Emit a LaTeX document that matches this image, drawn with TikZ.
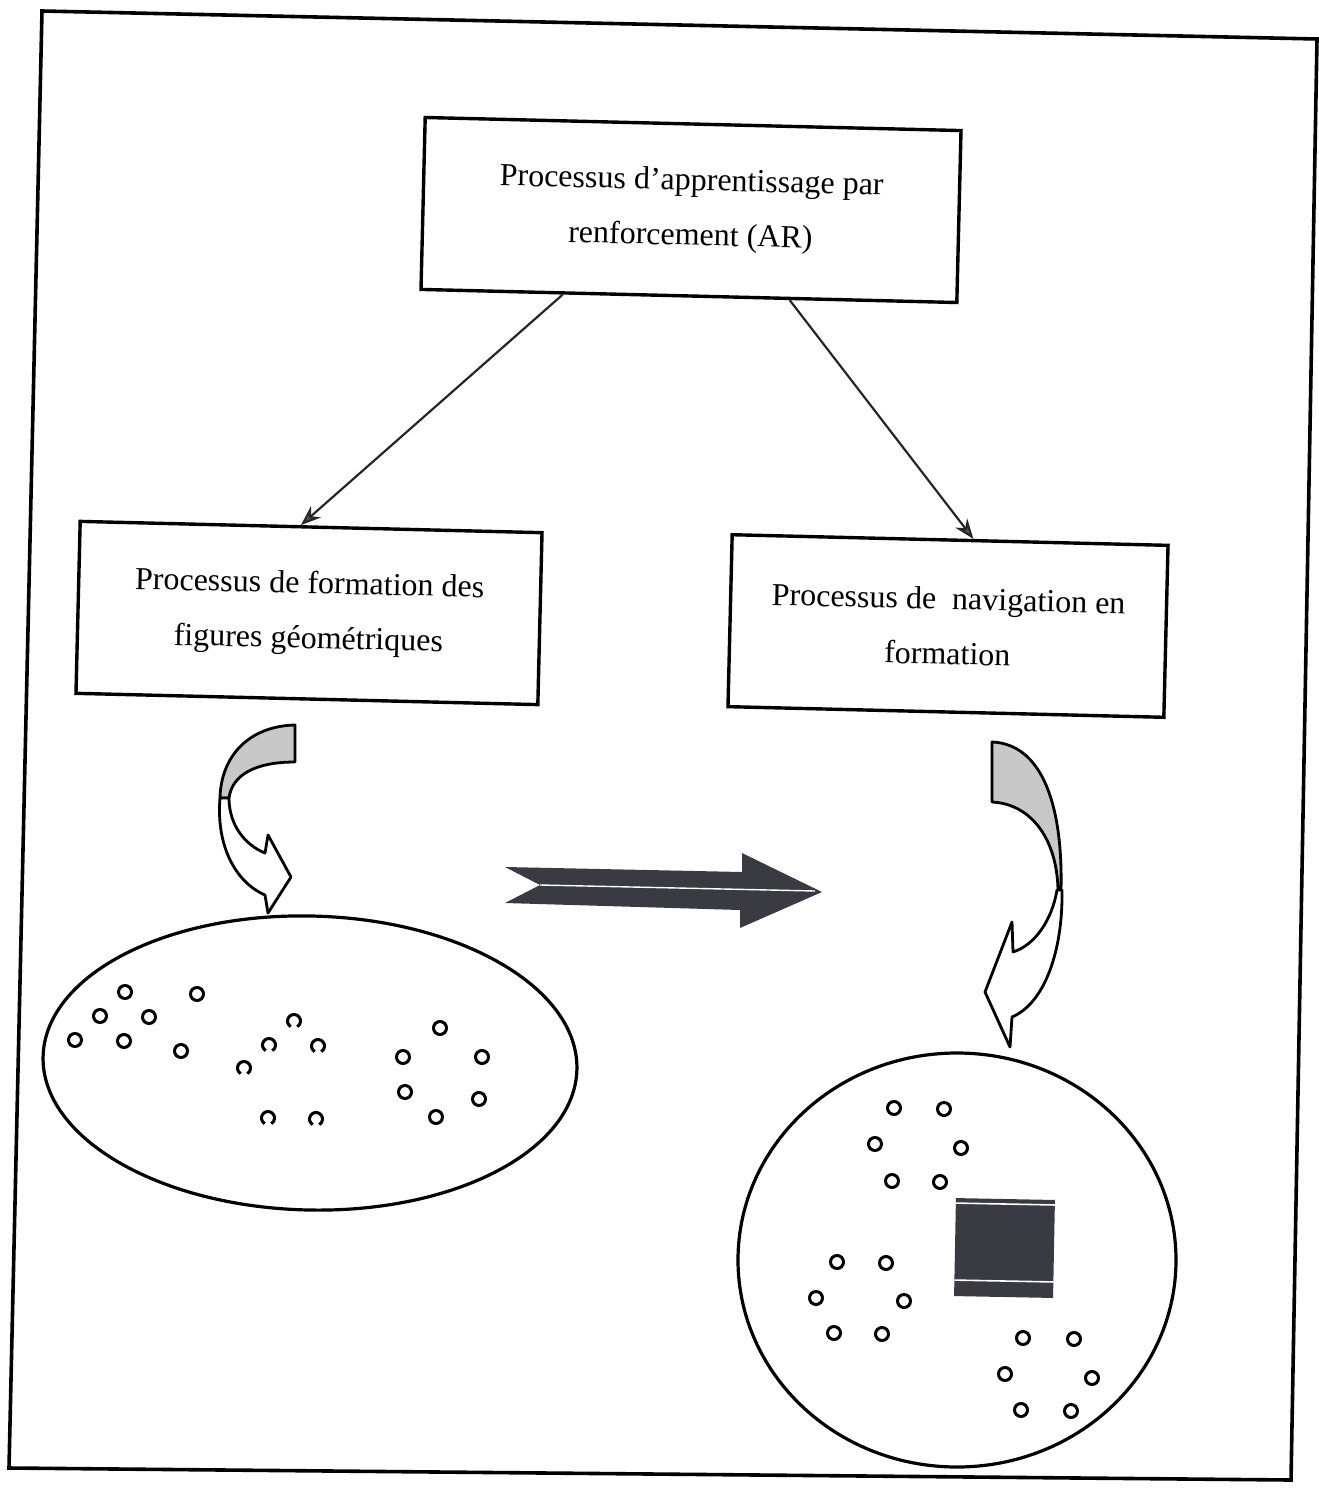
\documentclass[tikz,border=0pt]{standalone}
\usepackage{fontspec}
\setmainfont{Liberation Serif}
\usetikzlibrary{arrows.meta,calc}

\definecolor{shade}{RGB}{200,200,200}
\definecolor{ink}{RGB}{58,58,66}

\begin{document}
\begin{tikzpicture}[x=1pt,y=-1pt,
  procbox/.style={draw, line width=3.4pt, rotate=-1.4, minimum width=#1,
    minimum height=172pt, align=center, inner sep=0pt,
    font=\fontsize{32}{55}\selectfont},
  link/.style={line width=2.2pt, draw=black!85,
    -{Stealth[length=20pt,width=15pt,fill=black!65]}},
  curlarrow/.style={line width=2.8pt, line join=round},
  ring/.style={line width=3pt},
  outline/.style={line width=3.2pt}]

\useasboundingbox (0,0) rectangle (1318,1493);

% outer frame
\draw[line width=3.6pt] (42,11) -- (1317,39) -- (1291,1480) -- (9,1468) -- cycle;

% process boxes
\node[procbox=536pt] (ar) at (691,210) {Processus d'apprentissage par\\renforcement (AR)};
\node[procbox=462pt] (fig) at (309,613) {Processus de formation des\\figures géométriques};
\node[procbox=436pt] (nav) at (948,626) {Processus de~ navigation en\\formation};

% links from the top box
\draw[link] ($(ar.south west)!0.266!(ar.south east)$) -- ($(fig.north west)!0.478!(fig.north east)$);
\draw[link] ($(ar.south west)!0.687!(ar.south east)$) -- ($(nav.north west)!0.553!(nav.north east)$);

% curved arrow under the left box
\filldraw[curlarrow, fill=shade] (295,725) .. controls (250,726) and (221,755) .. (220,798)
  -- (229,798) .. controls (232,775) and (255,762) .. (295,762) -- cycle;
\filldraw[curlarrow, fill=white] (220,798) .. controls (216,845) and (235,882) .. (265,895)
  -- (268,913) -- (291,877) -- (268,835) -- (265,853)
  .. controls (245,845) and (229,825) .. (229,798) -- cycle;

% curved arrow under the right box
\filldraw[curlarrow, fill=shade] (992,742) .. controls (1042,744) and (1063,805) .. (1061,890)
  -- (1058,890) .. controls (1057,840) and (1032,804) .. (992,802) -- cycle;
\filldraw[curlarrow, fill=white] (1062,890) .. controls (1063,950) and (1045,1003) .. (1012,1017)
  -- (1010,1047) -- (985,992) -- (1012,922) -- (1013,952)
  .. controls (1035,945) and (1052,920) .. (1057,890) -- cycle;

% dark double arrow
\fill[ink] (505,867) -- (742,872) -- (742,853) -- (822,892) -- (740,928)
  -- (740,910) -- (505,903) -- (540,885) -- cycle;
\draw[white, line width=1.4pt] (540,885) -- (815,891);

% left ellipse with its three groups
\draw[outline, rotate around={-1.4:(310,1063)}] (310,1063) ellipse [x radius=267, y radius=147];
\foreach \p in {(125,992),(197,994),(100,1016),(149,1017),(75,1040),(124,1041),(181,1051),
                (440,1028),(403,1057),(482,1057),(405,1092),(479,1099),(436,1117)}
  \draw[ring] \p circle[radius=6.5];
\foreach \cx/\cy in {294/1021,269/1045,318/1046,244/1068,268/1118,316/1119}
  \draw[ring] ($(\cx,\cy)+(120:6.5)$) arc[start angle=120, end angle=420, radius=6.5];

% right circle with its groups and obstacle
\draw[outline] (957,1260) ellipse [x radius=219, y radius=207];
\foreach \p in {(894,1108),(944,1109),(875,1144),(961,1148),(892,1181),(940,1182),
                (837,1262),(886,1263),(816,1298),(904,1301),(834,1333),(882,1334),
                (1023,1338),(1074,1339),(1005,1374),(1092,1378),(1021,1410),(1071,1411)}
  \draw[ring] \p circle[radius=6.5];
\begin{scope}[rotate around={-1.1:(1004,1248)}]
  \fill[ink] (955,1199) rectangle (1054,1297);
  \draw[white, line width=1.6pt] (955,1204) -- (1054,1204);
  \draw[white, line width=1.6pt] (955,1281) -- (1054,1281);
\end{scope}

\end{tikzpicture}
\end{document}
